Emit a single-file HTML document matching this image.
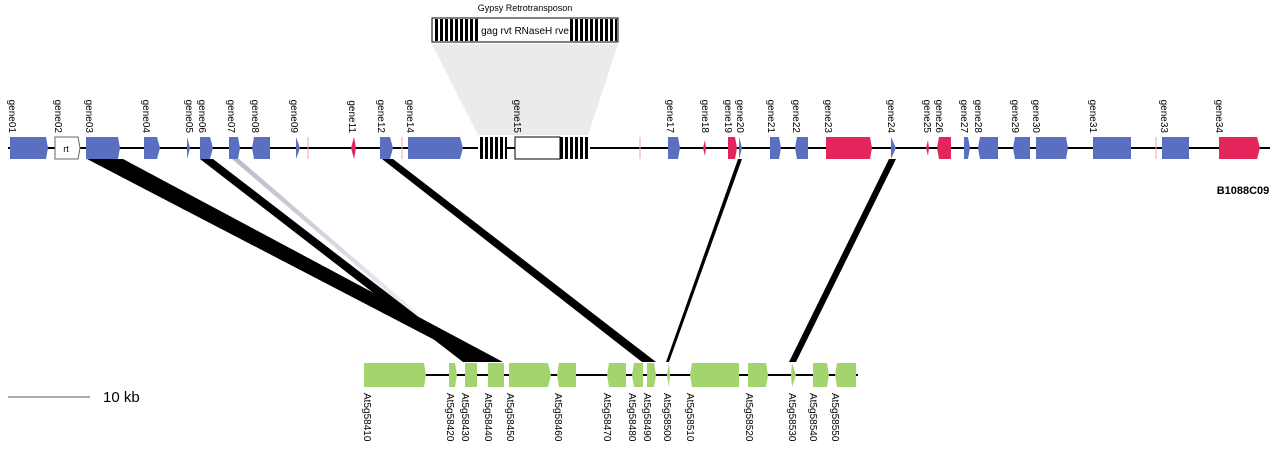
<!DOCTYPE html>
<html><head><meta charset="utf-8"><style>
html,body{margin:0;padding:0;background:#fff;}
svg{display:block;}
text{font-family:"Liberation Sans",sans-serif;}
</style></head><body>
<svg width="1280" height="449" viewBox="0 0 1280 449" xmlns="http://www.w3.org/2000/svg">
<defs>
<pattern id="st" width="5" height="10" patternUnits="userSpaceOnUse"><rect width="5" height="10" fill="#fff"/><rect width="3" height="10" fill="#000"/></pattern>
<linearGradient id="gg" x1="0" y1="0" x2="0" y2="1"><stop offset="0" stop-color="#b8bccb"/><stop offset="1" stop-color="#eef0f4"/></linearGradient>
</defs>
<!-- transposon -->
<text x="525" y="11" font-size="9" text-anchor="middle">Gypsy Retrotransposon</text>
<polygon points="432,44 618,44 588,135 478,135" fill="#ebebeb"/>
<rect x="432" y="18" width="186" height="24" fill="#fff" stroke="#000" stroke-width="1"/>
<rect x="433" y="19" width="47" height="22" fill="url(#st)"/>
<rect x="570" y="19" width="47" height="22" fill="url(#st)"/>
<text x="525" y="34" font-size="10" text-anchor="middle">gag rvt RNaseH rve</text>

<!-- connectors -->
<polygon points="232,159 239,159 420,315 414,315" fill="url(#gg)"/>
<polygon points="87,159 123,159 503,362 477,362" fill="#000"/>
<polygon points="200,159 213,159 477,362 463,362" fill="#000"/>
<polygon points="382,159 393,159 656,362 642,362" fill="#000"/>
<polygon points="738,159 742,159 669,362 666,362" fill="#000"/>
<polygon points="889,159 896,159 796,362 789,362" fill="#000"/>

<!-- top line -->
<line x1="8" y1="148" x2="1270" y2="148" stroke="#000" stroke-width="2"/>
<g fill="#5a6fbf">
<polygon points="10,137 46,137 48,148 46,159 10,159"/>
<polygon points="86,137 118,137 120,148 118,159 86,159"/>
<polygon points="144,137 157,137 160,148 157,159 144,159"/>
<polygon points="187,137 190,148 187,159"/>
<polygon points="200,137 210,137 213,148 210,159 200,159"/>
<polygon points="229,137 238,137 240,148 238,159 229,159"/>
<polygon points="254,137 270,137 270,159 254,159 252,148"/>
<polygon points="296,137 300,148 296,159"/>
<polygon points="380,137 390,137 393,148 390,159 380,159"/>
<polygon points="408,137 460,137 463,148 460,159 408,159"/>
<polygon points="668,137 678,137 680,148 678,159 668,159"/>
<polygon points="739,137 742,148 739,159"/>
<polygon points="770,137 779,137 781,148 779,159 770,159"/>
<polygon points="797,137 808,137 808,159 797,159 795,148"/>
<polygon points="891,137 896,148 891,159"/>
<polygon points="964,137 968,137 970,148 968,159 964,159"/>
<polygon points="980,137 998,137 998,159 980,159 978,148"/>
<polygon points="1015,137 1030,137 1030,159 1015,159 1013,148"/>
<polygon points="1036,137 1066,137 1068,148 1066,159 1036,159"/>
<polygon points="1093,137 1131,137 1131,159 1093,159"/>
<polygon points="1162,137 1189,137 1189,159 1162,159"/>
</g>
<g fill="#e3255c">
<polygon points="354,137 356,148 354,159 351,148"/>
<polygon points="705,140 706,148 705,156 703,148"/>
<polygon points="728,137 735,137 737,148 735,159 728,159"/>
<polygon points="826,137 870,137 872,148 870,159 826,159"/>
<polygon points="928,140 929,148 928,156 926,148"/>
<polygon points="939,137 951,137 951,159 939,159 937,148"/>
<polygon points="1219,137 1257,137 1260,148 1257,159 1219,159"/>
</g>
<g stroke="#f4a0b0" stroke-width="1"><line x1="308" y1="137" x2="308" y2="159"/><line x1="402" y1="137" x2="402" y2="159"/><line x1="640" y1="137" x2="640" y2="159"/><line x1="1156" y1="137" x2="1156" y2="159"/></g>
<polygon points="55,137 78,137 80,148 78,159 55,159" fill="#fff" stroke="#666" stroke-width="1"/>
<text x="66" y="152" font-size="9" text-anchor="middle">rt</text>
<rect x="478" y="137" width="29" height="22" fill="url(#st)"/>
<rect x="515" y="137" width="45" height="22" fill="#fff" stroke="#000"/>
<rect x="560" y="137" width="30" height="22" fill="url(#st)"/>
<text x="1243" y="194" font-size="11" font-weight="bold" text-anchor="middle">B1088C09</text>

<!-- top labels -->
<g font-size="10" text-anchor="end">
<text transform="translate(9,133) rotate(90)">gene01</text>
<text transform="translate(55,133) rotate(90)">gene02</text>
<text transform="translate(86,133) rotate(90)">gene03</text>
<text transform="translate(143,133) rotate(90)">gene04</text>
<text transform="translate(186,133) rotate(90)">gene05</text>
<text transform="translate(199,133) rotate(90)">gene06</text>
<text transform="translate(228,133) rotate(90)">gene07</text>
<text transform="translate(252,133) rotate(90)">gene08</text>
<text transform="translate(291,133) rotate(90)">gene09</text>
<text transform="translate(349,133) rotate(90)">gene11</text>
<text transform="translate(378,133) rotate(90)">gene12</text>
<text transform="translate(407,133) rotate(90)">gene14</text>
<text transform="translate(514,133) rotate(90)">gene15</text>
<text transform="translate(667,133) rotate(90)">gene17</text>
<text transform="translate(702,133) rotate(90)">gene18</text>
<text transform="translate(725,133) rotate(90)">gene19</text>
<text transform="translate(737,133) rotate(90)">gene20</text>
<text transform="translate(768,133) rotate(90)">gene21</text>
<text transform="translate(793,133) rotate(90)">gene22</text>
<text transform="translate(825,133) rotate(90)">gene23</text>
<text transform="translate(888,133) rotate(90)">gene24</text>
<text transform="translate(924,133) rotate(90)">gene25</text>
<text transform="translate(936,133) rotate(90)">gene26</text>
<text transform="translate(961,133) rotate(90)">gene27</text>
<text transform="translate(975,133) rotate(90)">gene28</text>
<text transform="translate(1012,133) rotate(90)">gene29</text>
<text transform="translate(1033,133) rotate(90)">gene30</text>
<text transform="translate(1090,133) rotate(90)">gene31</text>
<text transform="translate(1161,133) rotate(90)">gene33</text>
<text transform="translate(1216,133) rotate(90)">gene34</text>
</g>

<!-- bottom line -->
<line x1="364" y1="375" x2="858" y2="375" stroke="#000" stroke-width="2"/>
<g fill="#a3d46e">
<polygon points="364,363 424,363 426,375 424,387 364,387"/>
<polygon points="449,363 455,363 457,375 455,387 449,387"/>
<polygon points="465,363 477,363 477,387 465,387"/>
<polygon points="488,363 504,363 504,387 488,387"/>
<polygon points="509,363 548,363 551,375 548,387 509,387"/>
<polygon points="559,363 576,363 576,387 559,387 557,375"/>
<polygon points="609,363 626,363 626,387 609,387 607,375"/>
<polygon points="634,363 643,363 643,387 634,387 632,375"/>
<polygon points="647,363 654,363 656,375 654,387 647,387"/>
<polygon points="669,363 670,375 669,387 667,375"/>
<polygon points="692,363 739,363 739,387 692,387 690,375"/>
<polygon points="748,363 766,363 768,375 766,387 748,387"/>
<polygon points="792,363 796,375 792,387 791,375"/>
<polygon points="813,363 827,363 829,375 827,387 813,387"/>
<polygon points="837,363 856,363 856,387 837,387 835,375"/>
</g>
<g font-size="10">
<text transform="translate(364,393) rotate(90)">At5g58410</text>
<text transform="translate(447,393) rotate(90)">At5g58420</text>
<text transform="translate(462,393) rotate(90)">At5g58430</text>
<text transform="translate(485,393) rotate(90)">At5g58440</text>
<text transform="translate(507,393) rotate(90)">At5g58450</text>
<text transform="translate(555,393) rotate(90)">At5g58460</text>
<text transform="translate(604,393) rotate(90)">At5g58470</text>
<text transform="translate(629,393) rotate(90)">At5g58480</text>
<text transform="translate(644,393) rotate(90)">At5g58490</text>
<text transform="translate(664,393) rotate(90)">At5g58500</text>
<text transform="translate(687,393) rotate(90)">At5g58510</text>
<text transform="translate(746,393) rotate(90)">At5g58520</text>
<text transform="translate(789,393) rotate(90)">At5g58530</text>
<text transform="translate(810,393) rotate(90)">At5g58540</text>
<text transform="translate(832,393) rotate(90)">At5g58550</text>
</g>

<!-- scale -->
<line x1="8" y1="397" x2="90" y2="397" stroke="#555" stroke-width="1"/>
<text x="103" y="402" font-size="15">10 kb</text>
</svg>
</body></html>
